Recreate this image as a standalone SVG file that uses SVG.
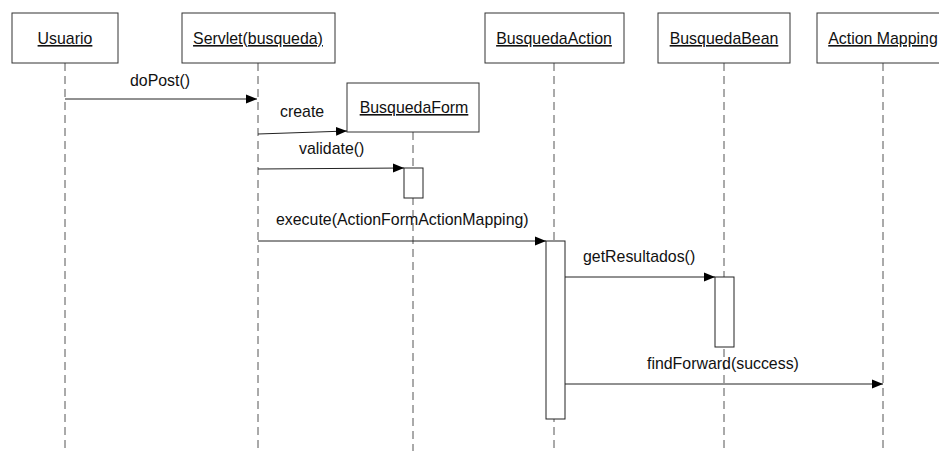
<svg xmlns="http://www.w3.org/2000/svg" width="939" height="451" viewBox="0 0 939 451">
<style>
.box{fill:#fff;stroke:#333;stroke-width:1}
.life{stroke:#555;stroke-width:1;stroke-dasharray:8,5;fill:none}
.act{fill:#fff;stroke:#222;stroke-width:1}
.msg{stroke:#222;stroke-width:1;fill:none}
.t{font-family:"Liberation Sans",Arial,sans-serif;font-size:15.9px;fill:#111}
.n{text-decoration:underline;text-anchor:middle}
</style>
<defs>
<marker id="ah" markerWidth="12" markerHeight="10" refX="11" refY="5" orient="auto" markerUnits="userSpaceOnUse">
<path d="M0,0.5 L11,5 L0,9.5 Z" fill="#000"/>
</marker>
</defs>
<g id="lifelines">
<line class="life" x1="65" y1="63" x2="65" y2="451"/>
<line class="life" x1="258" y1="63" x2="258" y2="451"/>
<line class="life" x1="413" y1="132" x2="413" y2="451"/>
<line class="life" x1="554" y1="63" x2="554" y2="451"/>
<line class="life" x1="724" y1="63" x2="724" y2="451"/>
<line class="life" x1="883" y1="63" x2="883" y2="451"/>
</g>
<g id="usuario">
<rect class="box" x="12" y="13" width="106" height="50"/>
<text class="t n" x="65" y="44">Usuario</text>
</g>
<g id="servlet">
<rect class="box" x="182" y="13" width="153" height="50"/>
<text class="t n" x="258" y="44">Servlet(busqueda)</text>
</g>
<g id="busquedaForm">
<rect class="box" x="347" y="83" width="132" height="49"/>
<text class="t n" x="414" y="113">BusquedaForm</text>
<rect class="act" x="404" y="168" width="19" height="30"/>
</g>
<g id="busquedaAction">
<rect class="box" x="485" y="13" width="139" height="50"/>
<text class="t n" x="554" y="44">BusquedaAction</text>
<rect class="act" x="546" y="241" width="19" height="178"/>
</g>
<g id="busquedaBean">
<rect class="box" x="658" y="13" width="132" height="50"/>
<text class="t n" x="724" y="44">BusquedaBean</text>
<rect class="act" x="715" y="277" width="19" height="70"/>
</g>
<g id="actionMapping">
<rect class="box" x="817" y="13" width="133" height="50"/>
<text class="t n" x="883" y="44">Action Mapping</text>
</g>
<g id="connectors">
<line class="msg" x1="65" y1="99" x2="257" y2="99" marker-end="url(#ah)"/>
<text class="t" x="130" y="86">doPost()</text>
<line class="msg" x1="258" y1="134" x2="347" y2="131" marker-end="url(#ah)"/>
<text class="t" x="280" y="117">create</text>
<line class="msg" x1="258" y1="169" x2="404" y2="168" marker-end="url(#ah)"/>
<text class="t" x="299" y="154">validate()</text>
<line class="msg" x1="258" y1="241" x2="546" y2="241" marker-end="url(#ah)"/>
<text class="t" x="276" y="225">execute(ActionFormActionMapping)</text>
<line class="msg" x1="565" y1="277" x2="715" y2="277" marker-end="url(#ah)"/>
<text class="t" x="583" y="262">getResultados()</text>
<line class="msg" x1="565" y1="384" x2="883" y2="384" marker-end="url(#ah)"/>
<text class="t" x="647" y="369">findForward(success)</text>
</g>
</svg>
